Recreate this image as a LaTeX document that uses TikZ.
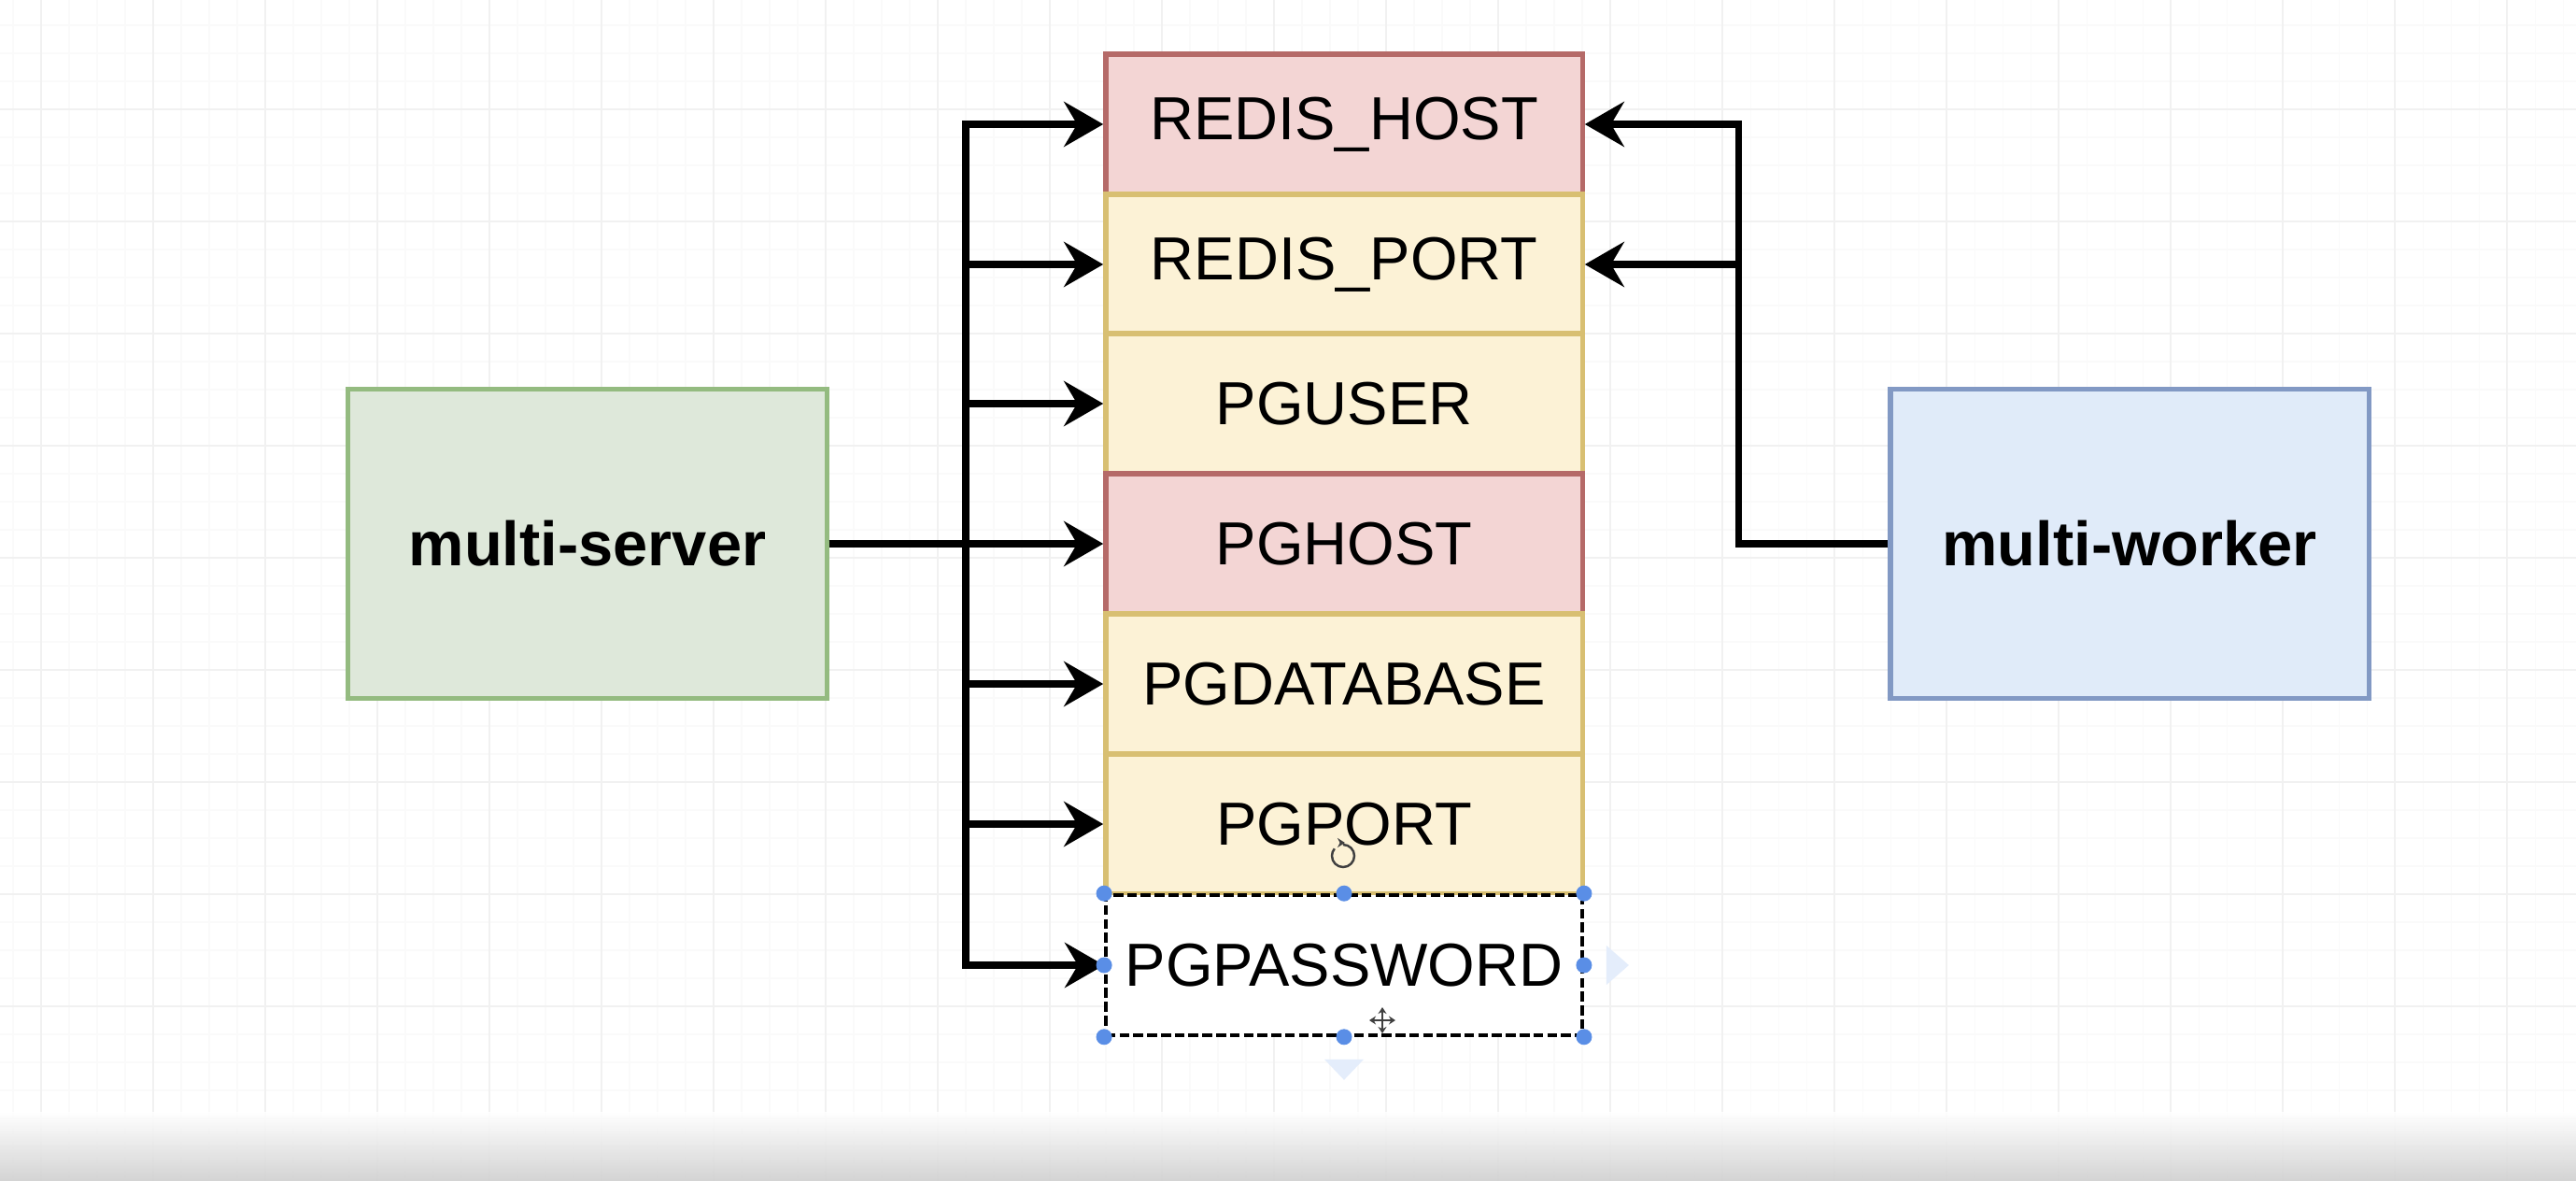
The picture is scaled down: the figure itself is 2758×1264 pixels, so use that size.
\documentclass[tikz,border=0pt]{standalone}
\usepackage{fontspec}
\setmainfont{Liberation Sans}
\usetikzlibrary{arrows.meta,calc}
\definecolor{redfill}{HTML}{F3D5D4}
\definecolor{redline}{HTML}{B56A68}
\definecolor{yelfill}{HTML}{FCF2D6}
\definecolor{yelline}{HTML}{D8BF72}
\definecolor{grnfill}{HTML}{DEE8DA}
\definecolor{grnline}{HTML}{94BB80}
\definecolor{blufill}{HTML}{E0EBF9}
\definecolor{bluline}{HTML}{8299C4}
\definecolor{handle}{HTML}{5A8EE6}
\definecolor{hint}{HTML}{E4EDFB}
\definecolor{gminorc}{HTML}{FAFAFA}
\definecolor{gmajorc}{HTML}{F1F1F1}
\definecolor{barbot}{HTML}{CFCFCF}
\begin{document}
\begin{tikzpicture}[x=0.01cm,y=-0.01cm,
  gminor/.style={draw=gminorc,line width=0.3pt},
  gmajor/.style={draw=gmajorc,line width=0.6pt},
  row/.style={minimum width=5.1cm,minimum height=1.5cm,inner sep=0pt,line width=1.5pt,
    font=\fontsize{18.5}{22}\selectfont},
  redrow/.style={row,draw=redline,fill=redfill},
  yelrow/.style={row,draw=yelline,fill=yelfill},
  pwrow/.style={row,fill=white,draw=black,line width=1pt,dash pattern=on 3pt off 1.2pt},
  svc/.style={minimum width=5.12cm,minimum height=3.31cm,inner sep=0pt,line width=1.5pt,
    font=\fontsize{19}{23}\selectfont\bfseries},
  arr/.style={line width=2pt,-{Stealth[length=0.42cm,width=0.48cm,inset=0.14cm]}},
  hdl/.style={fill=handle},
  cursor/.style={draw=black!75,line width=0.7pt}
]
\useasboundingbox (0,0) rectangle (2758,1264);
\fill[white] (0,0) rectangle (2758,1264);
% canvas grid
\foreach \x in {14,44,...,2758} \draw[gminor] (\x,0) -- (\x,1264);
\foreach \y in {27,57,...,1264} \draw[gminor] (0,\y) -- (2758,\y);
\foreach \x in {44,164,...,2758} \draw[gmajor] (\x,0) -- (\x,1264);
\foreach \y in {117,237,...,1264} \draw[gmajor] (0,\y) -- (2758,\y);
% bottom bar
\shade[top color=white,bottom color=barbot,fill opacity=0.9] (0,1190) rectangle (2758,1264);

% services
\node[svc,draw=grnline,fill=grnfill] (ms) at (629,582) {multi-server};
\node[svc,draw=bluline,fill=blufill] (mw) at (2280,582) {multi-worker};

% variable stack
\node[redrow] (r1) at (1439,133) {REDIS\_HOST};
\node[yelrow] (r2) at (1439,283) {REDIS\_PORT};
\node[yelrow] (r3) at (1439,432) {PGUSER};
\node[redrow] (r4) at (1439,582) {PGHOST};
\node[yelrow] (r5) at (1439,732) {PGDATABASE};
\node[yelrow] (r6) at (1439,882) {PGPORT};
\node[pwrow]  (r7) at (1439,1033) {PGPASSWORD};

% trunks
\coordinate (tl) at (1034,582);
\coordinate (tr) at (1861,582);

% multi-server connectors
\draw[arr] (ms.east) -- (r4.west);
\foreach \r in {r1,r2,r3,r5,r6,r7}
  \draw[arr] (ms.east) -- (tl) |- (\r.west);

% multi-worker connectors
\draw[arr] (mw.west) -- (tr) |- (r1.east);
\draw[arr] (mw.west) -- (tr) |- (r2.east);

% selection handles on PGPASSWORD
\foreach \a in {north west,north,north east,west,east,south west,south,south east}
  \fill[hdl] (r7.\a) circle[radius=0.085cm];
% hover hints
\fill[hint] ($(r7.east)+(24,-21)$) -- ++(24,21) -- ++(-24,21) -- cycle;
\fill[hint] ($(r7.south)+(-21,24)$) -- ++(42,0) -- ++(-21,22) -- cycle;
% rotate cursor
\coordinate (rot) at (1438,916);
\draw[cursor] ($(rot)+(0,-12)$) arc[start angle=90,end angle=-220,radius=0.12cm];
\draw[cursor,-{Stealth[length=0.08cm,width=0.1cm]}] ($(rot)+(-3,-14)$) -- ++(5,0);
% move cursor
\coordinate (mv) at (1480,1092);
\draw[cursor,{Stealth[length=0.07cm,width=0.09cm]}-{Stealth[length=0.07cm,width=0.09cm]}] ($(mv)+(-14,0)$) -- ($(mv)+(14,0)$);
\draw[cursor,{Stealth[length=0.07cm,width=0.09cm]}-{Stealth[length=0.07cm,width=0.09cm]}] ($(mv)+(0,-14)$) -- ($(mv)+(0,14)$);
\end{tikzpicture}
\end{document}
